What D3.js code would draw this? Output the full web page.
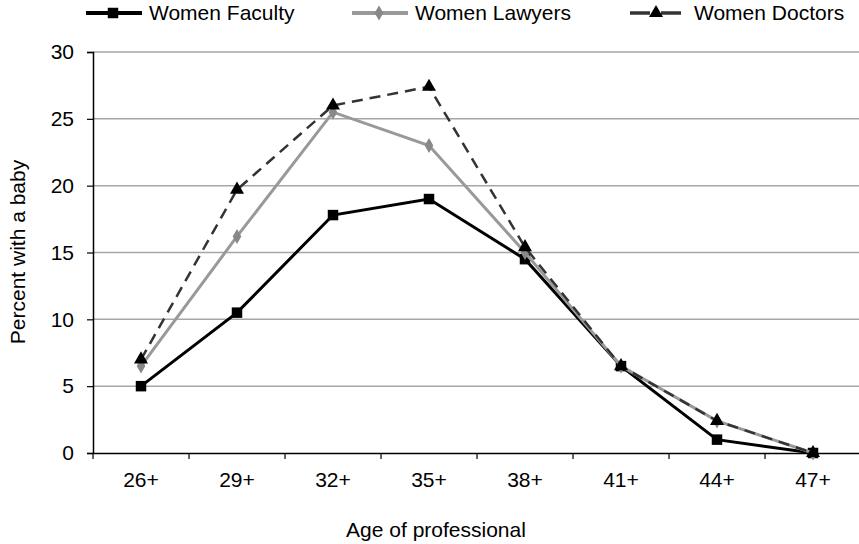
<!DOCTYPE html>
<html><head><meta charset="utf-8">
<script src="https://cdn.jsdelivr.net/npm/d3@7/dist/d3.min.js"></script>
<style>body{margin:0;background:#fff}svg{display:block}text{font-family:"Liberation Sans",Arial,sans-serif}</style>
</head><body><svg id="c" width="859" height="544"></svg>
<script>
const categories = ["26+","29+","32+","35+","38+","41+","44+","47+"];
const faculty = [5.0,10.5,17.8,19.0,14.5,6.5,1.0,0];
const lawyers = [6.5,16.2,25.5,23.0,15.0,6.5,2.4,0];
const doctors = [7.0,19.7,26.0,27.4,15.4,6.5,2.4,0];
const yTicks = [0,5,10,15,20,25,30];
const seriesNames = ["Women Faculty","Women Lawyers","Women Doctors"];

const FS = 21;
const svg = d3.select("#c");
const m = {l:93, r:861, t:52, b:453};
const x = d3.scaleBand().domain(categories).range([m.l, m.r]);
const y = d3.scaleLinear().domain([0,30]).range([m.b, m.t]);

// gridlines
svg.append("g").selectAll("line").data(yTicks.filter(d=>d>0)).join("line")
  .attr("x1", m.l).attr("x2", m.r).attr("y1", d=>y(d)).attr("y2", d=>y(d))
  .attr("stroke", "#a6a6a6").attr("stroke-width", 1.5);

// y axis
const ya = svg.append("g").attr("transform", `translate(${m.l},0)`)
  .call(d3.axisLeft(y).tickValues(yTicks).tickSize(6).tickPadding(13));
ya.select(".domain").attr("stroke","#000").attr("stroke-width",1.5);
ya.selectAll(".tick line").attr("stroke","#000").attr("stroke-width",1.2);
ya.selectAll("text").attr("font-size",FS).attr("fill","#000");

// x axis
const xa = svg.append("g").attr("transform", `translate(0,${m.b})`)
  .call(d3.axisBottom(x).tickSize(0).tickPadding(19));
xa.select(".domain").attr("stroke","#000").attr("stroke-width",1.5);
xa.selectAll("text").attr("font-size",FS).attr("fill","#000");
// category boundary ticks
const bounds = categories.map(c=>x(c)).concat([m.r]);
svg.append("g").selectAll("line").data(bounds).join("line")
  .attr("x1", d=>d).attr("x2", d=>d).attr("y1", m.b).attr("y2", m.b+6)
  .attr("stroke","#000").attr("stroke-width",1.2);

const cx = c => x(c) + x.bandwidth()/2;
const line = d3.line().x((d,i)=>cx(categories[i])).y(d=>y(d));

const styles = [
  {data: faculty, stroke:"#000", width:3, dash:null, sym:d3.symbolSquare, size:110, fill:"#000"},
  {data: lawyers, stroke:"#999", width:3, dash:null, sym:d3.symbolDiamond, size:65, fill:"#888"},
  {data: doctors, stroke:"#333", width:2.5, dash:"11,7", sym:d3.symbolTriangle, size:85, fill:"#000"}
];

styles.forEach(s=>{
  svg.append("path").datum(s.data).attr("d", line).attr("fill","none")
    .attr("stroke", s.stroke).attr("stroke-width", s.width)
    .attr("stroke-dasharray", s.dash);
  svg.append("g").selectAll("path").data(s.data).join("path")
    .attr("d", d3.symbol().type(s.sym).size(s.size))
    .attr("transform", (d,i)=>`translate(${cx(categories[i])},${y(d)})`)
    .attr("fill", s.fill);
});

// legend
const legX = [86, 352, 630];
const lg = svg.append("g");
styles.forEach((s,i)=>{
  const g = lg.append("g").attr("transform", `translate(${legX[i]},13)`);
  g.append("line").attr("x1",0).attr("x2",i===2?51:56).attr("y1",0).attr("y2",0)
    .attr("stroke", s.stroke).attr("stroke-width", i===2 ? 3.5 : 4)
    .attr("stroke-dasharray", i===2 ? "20,11" : null);
  g.append("path").attr("d", d3.symbol().type(s.sym).size(s.size)).attr("transform",`translate(${i===2?26:27},0)`).attr("fill", s.fill);
  g.append("text").attr("x", i===2 ? 64 : 63).attr("y", 0).attr("dy","0.35em")
    .attr("font-size",FS).attr("fill","#000").text(seriesNames[i]);
});

// axis titles
svg.append("text").attr("x", 436).attr("y", 537).attr("text-anchor","middle")
  .attr("font-size",FS).text("Age of professional");
svg.append("text").attr("transform","translate(25,252) rotate(-90)").attr("text-anchor","middle")
  .attr("font-size",FS).text("Percent with a baby");
</script></body></html>
